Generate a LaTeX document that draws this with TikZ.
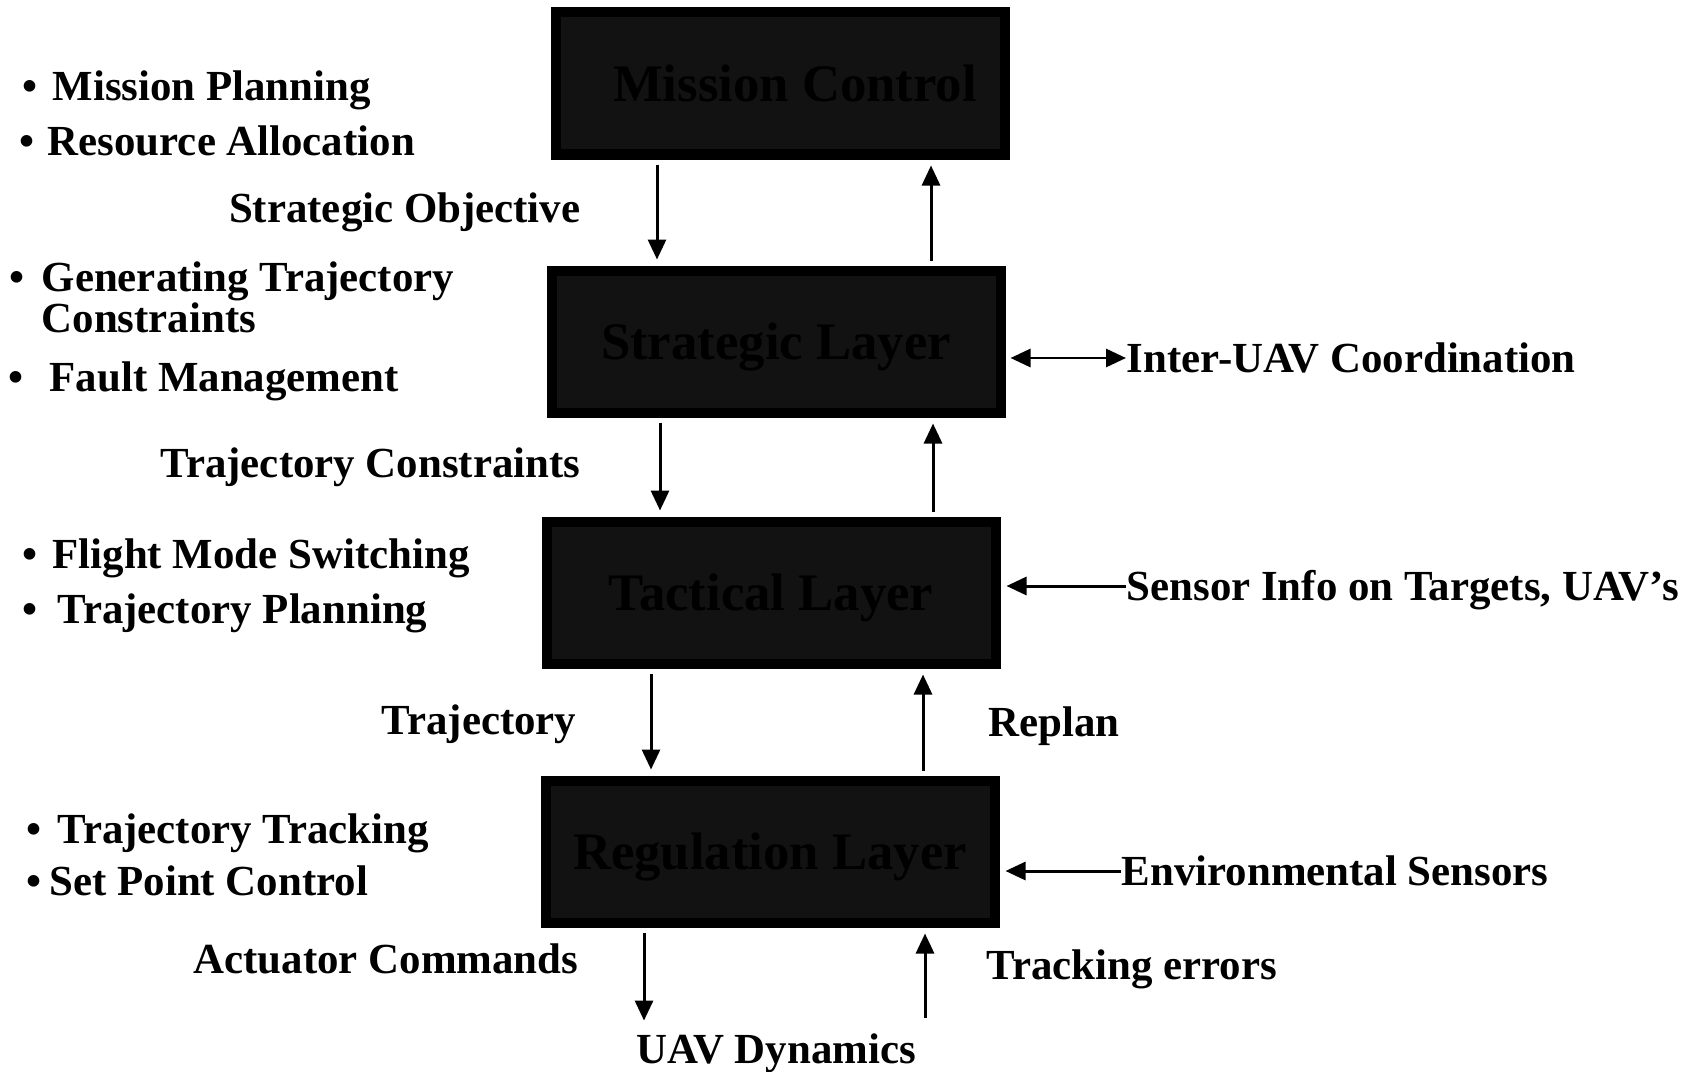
\documentclass[tikz,border=0pt]{standalone}
\usepackage{fontspec}
\setmainfont{Liberation Serif}
\usetikzlibrary{arrows.meta,positioning}

\begin{document}
\begin{tikzpicture}[
    font=\bfseries\fontsize{12.2}{13}\selectfont,
    layer/.style={
        draw=black,
        line width=0.1cm,
        fill=black!93,
        text=black,
        minimum width=4.49cm,
        minimum height=1.42cm,
        text height=0.35cm,
        text depth=0cm,
        font=\bfseries\fontsize{15}{18}\selectfont
    },
    note/.style={anchor=base west, inner sep=0pt, align=left},
    flowleft/.style={anchor=base east, inner sep=0pt},
    flowright/.style={anchor=base west, inner sep=0pt},
    arrow/.style={-{Triangle[length=0.2cm,width=0.18cm]}, line width=0.85pt, shorten <=0.05cm, shorten >=0.06cm},
    input/.style={-{Triangle[length=0.2cm,width=0.18cm]}, line width=0.85pt, shorten >=0.06cm}
]
\useasboundingbox (0,0) rectangle (17.01,-10.71);

% layers
\node[layer] (mission) at (7.80,-0.835) {\hspace{0.3cm}Mission Control};
\node[layer, below=1.06cm of mission, xshift=-0.04cm] (strategic) {Strategic Layer};
\node[layer, below=0.99cm of strategic, xshift=-0.05cm] (tactical) {Tactical Layer};
\node[layer, below=1.07cm of tactical, xshift=-0.01cm] (regulation) {Regulation Layer};

% tasks of each layer
\node[note] (planning) at (0.22,-1.01) {\textbullet\hspace{0.15cm}Mission Planning};
\node[note] (allocation) at (0.19,-1.56) {\textbullet\hspace{0.13cm}Resource Allocation};
\node[note, font=\bfseries\fontsize{12.2}{11.4}\selectfont] (generating) at (0.09,-3.32) {\textbullet\hspace{0.17cm}Generating Trajectory\\\hphantom{\textbullet}\hspace{0.17cm}Constraints};
\node[note] (fault) at (0.08,-3.91) {\textbullet\hspace{0.26cm}Fault Management};
\node[note] (switching) at (0.22,-5.68) {\textbullet\hspace{0.15cm}Flight Mode Switching};
\node[note] (trajplanning) at (0.22,-6.23) {\textbullet\hspace{0.20cm}Trajectory Planning};
\node[note] (tracking) at (0.26,-8.43) {\textbullet\hspace{0.16cm}Trajectory Tracking};
\node[note] (setpoint) at (0.26,-8.95) {\textbullet\hspace{0.08cm}Set Point Control};

% signals between layers
\node[flowleft] (objective) at (5.81,-2.22) {Strategic Objective};
\node[flowleft] (constraints) at (5.81,-4.77) {Trajectory Constraints};
\node[flowleft] (trajectory) at (5.77,-7.34) {Trajectory};
\node[flowleft] (actuator) at (5.79,-9.73) {Actuator Commands};
\node[flowright] (replan) at (9.88,-7.36) {Replan};
\node[flowright] (errors) at (9.86,-9.79) {Tracking errors};
\node[flowright] (dynamics) at (6.36,-10.63) {UAV Dynamics};

% outside inputs
\node[flowright] (coordination) at (11.26,-3.72) {Inter-UAV Coordination};
\node[flowright] (sensor) at (11.26,-6.00) {Sensor Info on Targets, UAV’s};
\node[flowright] (environment) at (11.21,-8.85) {Environmental Sensors};

\draw[arrow] ([xshift=-1.23cm]mission.south) -- ([xshift=-1.23cm]mission.south |- strategic.north);
\draw[arrow] ([xshift=1.51cm]mission.south |- strategic.north) -- ([xshift=1.51cm]mission.south);
\draw[arrow] ([xshift=-1.16cm]strategic.south) -- ([xshift=-1.16cm]strategic.south |- tactical.north);
\draw[arrow] ([xshift=1.57cm]strategic.south |- tactical.north) -- ([xshift=1.57cm]strategic.south);
\draw[arrow] ([xshift=-1.20cm]tactical.south) -- ([xshift=-1.20cm]tactical.south |- regulation.north);
\draw[arrow] ([xshift=1.52cm]tactical.south |- regulation.north) -- ([xshift=1.52cm]tactical.south);
\draw[arrow, shorten >=0.12cm] ([xshift=-1.26cm]regulation.south) -- ([xshift=-1.26cm]regulation.south |- dynamics.north);
\draw[arrow, shorten <=0.15cm] ([xshift=1.55cm]regulation.south |- dynamics.north) -- ([xshift=1.55cm]regulation.south);

\draw[{Triangle[length=0.2cm,width=0.18cm]}-{Triangle[length=0.2cm,width=0.18cm]}, line width=0.85pt, shorten >=0.05cm]
    ([yshift=0.14cm]coordination.base west) -- ([yshift=0.14cm]coordination.base west -| strategic.east);
\draw[input] ([yshift=0.14cm]sensor.base west) -- ([yshift=0.14cm]sensor.base west -| tactical.east);
\draw[input] ([yshift=0.14cm]environment.base west) -- ([yshift=0.14cm]environment.base west -| regulation.east);
\end{tikzpicture}
\end{document}
